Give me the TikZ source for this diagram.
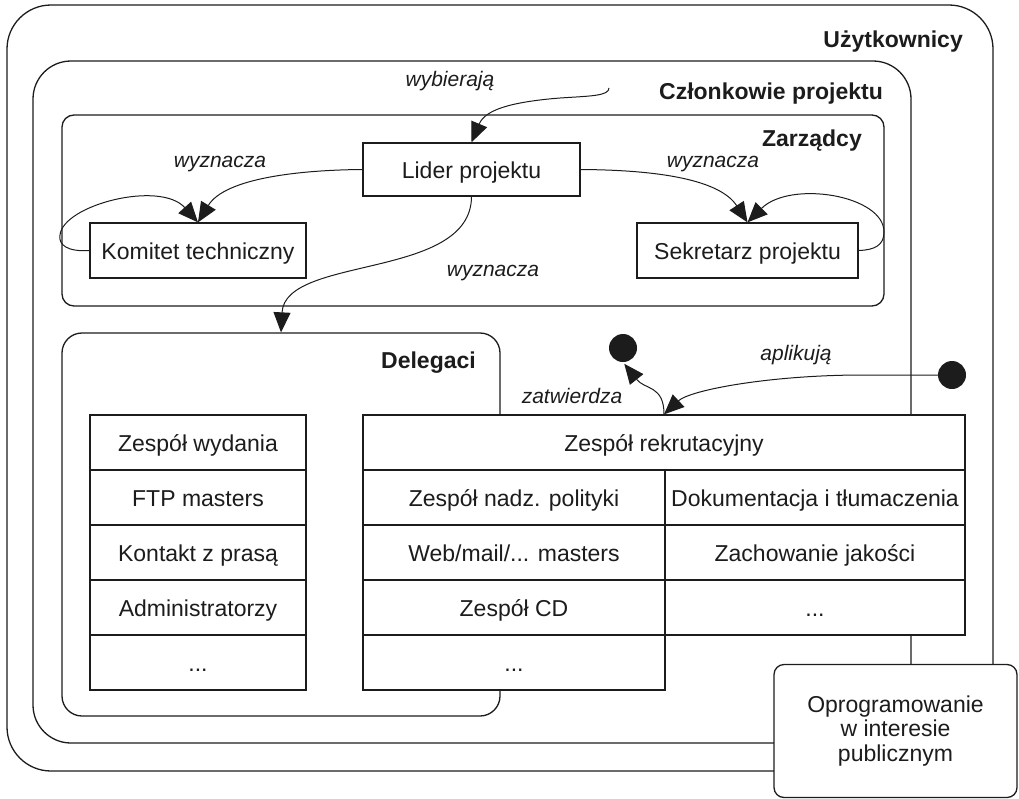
\documentclass[tikz,border=0pt]{standalone}
\usepackage{fontspec}
\setmainfont{Liberation Sans}
\usetikzlibrary{arrows.meta}
\definecolor{ink}{RGB}{28,28,28}

\begin{document}
\begin{tikzpicture}[x=1pt,y=-1pt,
  every node/.style={font=\fontsize{23}{23}\selectfont, text=ink},
  region/.style={draw=ink, line width=1.3pt, inner sep=0pt},
  box/.style={draw=ink, line width=1.3pt, fill=white, inner sep=0pt},
  entity/.style={box, text height=21pt, text depth=4pt},
  title/.style={font=\fontsize{23}{23}\selectfont\bfseries, anchor=base east, inner sep=0pt},
  relation/.style={font=\fontsize{21}{21}\selectfont\itshape, anchor=base, inner sep=0pt},
  link/.style={draw=ink, line width=1pt, -{Triangle[length=20pt,width=17pt]}},
  dot/.style={circle, fill=ink, minimum size=28pt, inner sep=0pt},
]
\useasboundingbox (0,0) rectangle (1019,798);

% nested groups
\node[region, rounded corners=44pt, minimum width=986pt, minimum height=766pt] (users) at (500,388) {};
\node[region, rounded corners=38pt, minimum width=878pt, minimum height=682pt] (members) at (472,402) {};
\node[region, rounded corners=12pt, minimum width=822pt, minimum height=191pt] (managers) at (473,210.5) {};
\node[region, rounded corners=20pt, minimum width=438pt, minimum height=383pt] (delegates) at (281,524.5) {};

\node[title] at (963,47) {Użytkownicy};
\node[title] at (883,99) {Członkowie projektu};
\node[title] at (862,146) {Zarządcy};
\node[title] at (476,368) {Delegaci};

% management roles
\node[entity, minimum width=217pt, minimum height=53pt] (leader) at (471.5,169.5) {Lider projektu};
\node[entity, minimum width=216pt, minimum height=55pt] (tech) at (198,250.5) {Komitet techniczny};
\node[entity, minimum width=221pt, minimum height=55pt] (secretary) at (747.5,250.5) {Sekretarz projektu};

% delegated teams, left table
\node[entity, minimum width=216pt, minimum height=55pt] (release) at (198,442.5) {Zespół wydania};
\node[entity, minimum width=216pt, minimum height=55pt] (ftp) at (198,497.5) {FTP masters};
\node[entity, minimum width=216pt, minimum height=55pt] (press) at (198,552.5) {Kontakt z prasą};
\node[entity, minimum width=216pt, minimum height=55pt] (admins) at (198,607.5) {Administratorzy};
\node[entity, minimum width=216pt, minimum height=55pt] (more1) at (198,662.5) {...};

% delegated teams, right table
\node[entity, minimum width=602pt, minimum height=55pt] (recruit) at (664,442.5) {Zespół rekrutacyjny};
\node[entity, minimum width=302pt, minimum height=55pt] (policy) at (514,497.5) {Zespół nadz. polityki};
\node[entity, minimum width=302pt, minimum height=55pt] (web) at (514,552.5) {Web/mail/... masters};
\node[entity, minimum width=302pt, minimum height=55pt] (cd) at (514,607.5) {Zespół CD};
\node[entity, minimum width=302pt, minimum height=55pt] (more2) at (514,662.5) {...};
\node[entity, minimum width=300pt, minimum height=55pt] (docs) at (815,497.5) {Dokumentacja i tłumaczenia};
\node[entity, minimum width=300pt, minimum height=55pt] (qa) at (815,552.5) {Zachowanie jakości};
\node[entity, minimum width=300pt, minimum height=55pt] (more3) at (815,607.5) {...};

\node[box, rounded corners=10pt, minimum width=243pt, minimum height=133pt, align=center,
  font=\fontsize{23}{24.5}\selectfont] (spi) at (895.5,731) {Oprogramowanie\\w interesie\\publicznym};

% start and end markers
\node[dot] (accepted) at (623,348) {};
\node[dot] (applicants) at (952,375) {};
\coordinate (elect) at (609,88);

% relations
\draw[link] (elect) .. controls (609,96) and (590,96) .. (560,98)
  .. controls (510,102) and (485,110) .. (leader.north);
\draw[link] (leader.west) .. controls (300,170) and (225,178) .. (tech.north);
\draw[link] (tech.west) .. controls (68,252) and (58,245) .. (60,235)
  .. controls (63,205) and (160,180) .. (tech.north);
\draw[link] (leader.east) .. controls (660,170) and (720,180) .. (secretary.north);
\draw[link] (secretary.east) .. controls (875,250) and (884,245) .. (884,232)
  .. controls (884,195) and (790,180) .. (secretary.north);
\draw[link] (leader.south) .. controls (471,280) and (285,255) .. (delegates.north);
\draw[link] (applicants.west) -- (863,375) .. controls (770,375) and (690,390) .. (recruit.north);
\draw[link, shorten >=2pt] (recruit.north) .. controls (664,385) and (645,390) .. (accepted.south);

\node[relation] at (450,86) {wybierają};
\node[relation] at (220,167) {wyznacza};
\node[relation] at (713,167) {wyznacza};
\node[relation] at (493,276) {wyznacza};
\node[relation] at (572,403) {zatwierdza};
\node[relation] at (796,360) {aplikują};
\end{tikzpicture}
\end{document}
